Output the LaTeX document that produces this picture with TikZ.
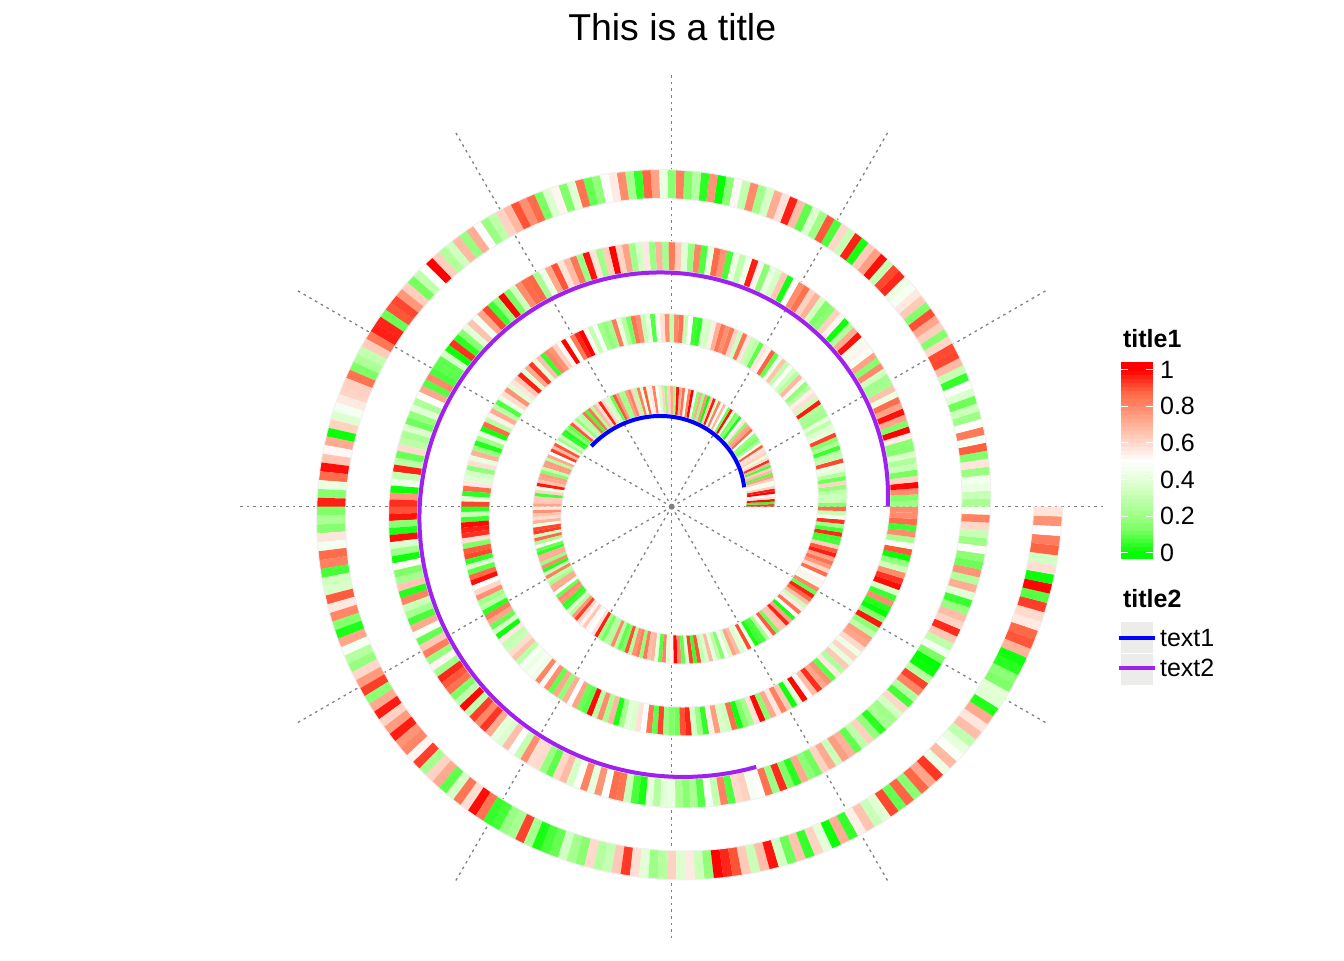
\documentclass[tikz,border=0pt]{standalone}
\usepackage{fontspec}
\setmainfont{Liberation Sans}
\usepackage{tikz}
\definecolor{lineblue}{RGB}{0,0,255}
\definecolor{linepurple}{RGB}{160,32,240}
\definecolor{keygrey}{RGB}{236,236,234}
\definecolor{gridgrey}{RGB}{128,128,128}
\tikzstyle{gridline}   = [gridgrey, line width=0.65pt, dash pattern=on 1.3pt off 2pt]
\tikzstyle{bandedge}   = [black!6, line width=0.5pt]
\tikzstyle{blueline}   = [lineblue, line width=2pt]
\tikzstyle{purpleline} = [linepurple, line width=2pt]
\tikzstyle{legtitle}   = [anchor=base west, inner sep=0pt, font=\fontsize{12.5}{15}\selectfont\bfseries]
\tikzstyle{legtext}    = [anchor=west, inner sep=0pt, font=\fontsize{12.5}{15}\selectfont]
\tikzstyle{tick}       = [white, line width=0.5pt]

% green - white - red scale, value in [0,1], sets colour heatcol
\newcommand\heatcolour[1]{%
    \pgfmathsetmacro\hcv{#1}%
    \ifdim\hcv pt<0.5pt
        \pgfmathsetmacro\hct{4*(1-2*\hcv)}%
        \pgfmathtruncatemacro\hck{min(floor(\hct),3)}%
        \pgfmathsetmacro\hcf{\hct-\hck}%
        \pgfmathtruncatemacro\hcR{round({255,219,177,124,0}[\hck]*(1-\hcf)+{255,219,177,124,0}[\hck+1]*\hcf)}%
        \pgfmathtruncatemacro\hcB{round({255,205,155,100,0}[\hck]*(1-\hcf)+{255,205,155,100,0}[\hck+1]*\hcf)}%
        \definecolor{heatcol}{RGB}{\hcR,255,\hcB}%
    \else
        \pgfmathsetmacro\hct{4*(2*\hcv-1)}%
        \pgfmathtruncatemacro\hck{min(floor(\hct),3)}%
        \pgfmathsetmacro\hcf{\hct-\hck}%
        \pgfmathtruncatemacro\hcG{round({255,207,158,104,0}[\hck]*(1-\hcf)+{255,207,158,104,0}[\hck+1]*\hcf)}%
        \pgfmathtruncatemacro\hcB{round({255,190,129,70,0}[\hck]*(1-\hcf)+{255,190,129,70,0}[\hck+1]*\hcf)}%
        \definecolor{heatcol}{RGB}{255,\hcG,\hcB}%
    \fi
}

\begin{document}
\begin{tikzpicture}[x=0.5pt, y=0.5pt]

    \useasboundingbox (-671.7,-453.3) rectangle (672.3,506.7);
    \coordinate (centre) at (0,0);

    % radial grid
    \foreach \a in {0,30,...,330}
        \draw [gridline] (centre) -- (\a:434);
    \fill [gridgrey] (centre) circle (3);

    % spiral heatmap, 1000 cells over four turns
    \pgfmathsetseed{20}
    \foreach \i in {0,...,999} {
        \pgfmathsetmacro\ta{1.44*\i}
        \pgfmathsetmacro\tb{min(\ta+1.46,1440)}
        \pgfmathsetmacro\ra{74+0.2*\ta}
        \pgfmathsetmacro\rb{74+0.2*\tb}
        \pgfmathsetmacro\rc{\ra+29}
        \pgfmathsetmacro\rd{\rb+29}
        \heatcolour{rnd}
        \fill [heatcol] (\ta:\ra) -- (\tb:\rb) -- (\tb:\rd) -- (\ta:\rc) -- cycle;
    }
    \draw [bandedge] plot [domain=0:1440, samples=720] (\x:{74+0.2*\x});
    \draw [bandedge] plot [domain=0:1440, samples=720] (\x:{103+0.2*\x});

    % lines
    \draw [blueline]   plot [domain=15:143, samples=60]    (\x:{72+0.2*\x});
    \draw [purpleline] plot [domain=720:1008, samples=150] (\x:{216+0.2*(\x-720)});

    \node (title) [anchor=base, inner sep=0pt, font=\fontsize{18.7}{22}\selectfont] at (0.5,466) {This is a title};

    % legend: title1
    \node (title1) [legtitle] at (451,159) {title1};
    \foreach \s in {0,...,48} {
        \pgfmathsetmacro\ya{-52+4*\s}
        \pgfmathsetmacro\yb{\ya+4.3}
        \heatcolour{max(0,min(1,(\ya+2+46)/183))}
        \fill [heatcol] (449,\ya) rectangle (481,\yb);
    }
    \foreach \lab [count=\k] in {0,0.2,0.4,0.6,0.8,1} {
        \pgfmathsetmacro\y{-46+183*\lab}
        \draw [tick] (449,\y) -- (456,\y);
        \draw [tick] (474,\y) -- (481,\y);
        \node (lab\k) [legtext] at (488,\y) {\lab};
    }

    % legend: title2
    \node (title2) [legtitle] at (451,-101) {title2};
    \fill [keygrey] (449,-115) rectangle (481,-146);
    \fill [keygrey] (449,-147) rectangle (481,-178);
    \draw [blueline]   (447,-131) -- (483,-131);
    \draw [purpleline] (447,-161) -- (483,-161);
    \node (text1) [legtext] at (488,-131) {text1};
    \node (text2) [legtext] at (488,-161) {text2};

\end{tikzpicture}
\end{document}
